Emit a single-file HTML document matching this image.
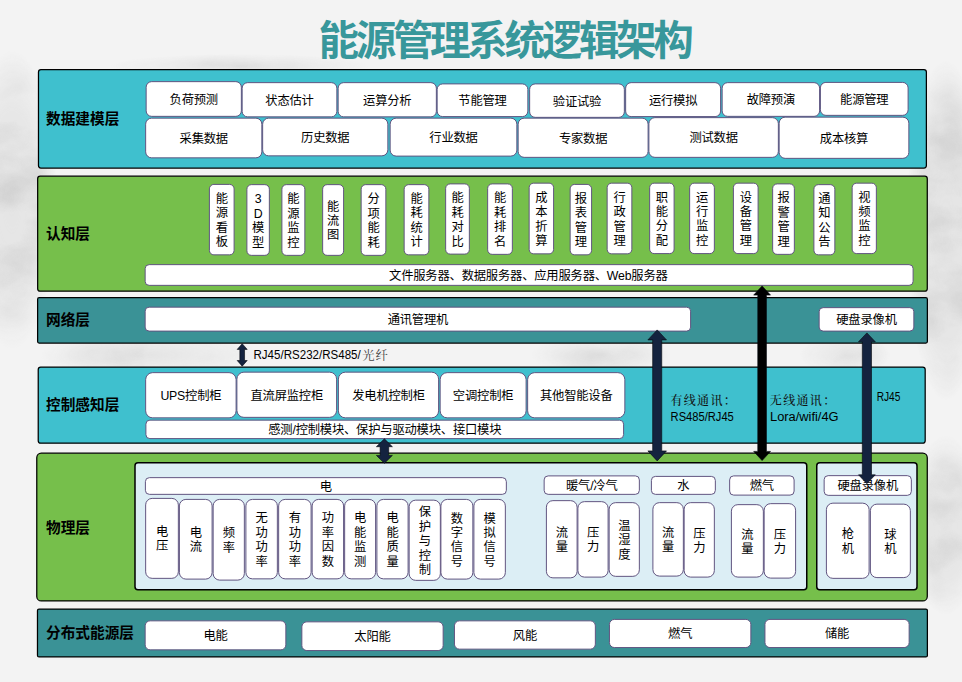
<!DOCTYPE html>
<html lang="zh-CN"><head><meta charset="utf-8"><title>能源管理系统逻辑架构</title>
<style>
html,body{margin:0;padding:0;}
body{width:962px;height:682px;overflow:hidden;position:relative;
 background:#f3f3f3;
 font-family:"Liberation Sans","Noto Sans CJK SC",sans-serif;}
svg{position:absolute;left:0;top:0;display:block}
h1{position:absolute;z-index:2;margin:0;left:318.5px;top:15px;width:372px;height:52px;line-height:52px;white-space:nowrap;
 font:bold 40.5px/52px "Liberation Sans","Noto Sans CJK SC",sans-serif;color:#38979b;letter-spacing:-3.3px}
.t{font:12.3px "Liberation Sans","Noto Sans CJK SC",sans-serif;fill:#000;letter-spacing:-0.2px}
.lab{font:bold 14.67px "Liberation Sans","Noto Sans CJK SC",sans-serif;fill:#000;letter-spacing:0}
.sf{font:500 12px "Liberation Serif","Noto Serif CJK SC",serif;fill:#111;letter-spacing:1.35px}
.sf2{font:12.3px "Liberation Serif","Noto Serif CJK SC",serif;fill:#444;letter-spacing:1px}
.cal{font:12px "Liberation Sans","Noto Sans CJK SC",sans-serif;fill:#000}
</style></head>
<body>
<h1>能源管理系统逻辑架构</h1>
<svg width="962" height="682" viewBox="0 0 962 682">
<defs>
<filter id="marble" x="0" y="0" width="100%" height="100%" color-interpolation-filters="sRGB">
<feTurbulence type="fractalNoise" baseFrequency="0.016 0.024" numOctaves="4" seed="11"/>
<feColorMatrix type="matrix" values="0 0 0 0 0.8  0 0 0 0 0.8  0 0 0 0 0.8  1.7 0 0 0 -0.62"/>
</filter>
<radialGradient id="gL" cx="12" cy="200" r="1" gradientUnits="userSpaceOnUse" gradientTransform="translate(12 200) scale(45 150) translate(-12 -200)"><stop offset="0" stop-color="#fff" stop-opacity="1"/><stop offset="0.6" stop-color="#fff" stop-opacity=".8"/><stop offset="1" stop-color="#fff" stop-opacity="0"/></radialGradient>
<radialGradient id="gR" cx="946" cy="230" r="1" gradientUnits="userSpaceOnUse" gradientTransform="translate(946 230) scale(40 170) translate(-946 -230)"><stop offset="0" stop-color="#fff" stop-opacity="1"/><stop offset="0.65" stop-color="#fff" stop-opacity=".9"/><stop offset="1" stop-color="#fff" stop-opacity="0"/></radialGradient>
<radialGradient id="gR2" cx="946" cy="525" r="1" gradientUnits="userSpaceOnUse" gradientTransform="translate(946 525) scale(36 90) translate(-946 -525)"><stop offset="0" stop-color="#fff" stop-opacity="1"/><stop offset="0.6" stop-color="#fff" stop-opacity=".8"/><stop offset="1" stop-color="#fff" stop-opacity="0"/></radialGradient>
<radialGradient id="gG" cx="150" cy="355" r="1" gradientUnits="userSpaceOnUse" gradientTransform="translate(150 355) scale(110 22) translate(-150 -355)"><stop offset="0" stop-color="#fff" stop-opacity="1"/><stop offset="1" stop-color="#fff" stop-opacity="0"/></radialGradient>
<radialGradient id="gG2" cx="600" cy="355" r="1" gradientUnits="userSpaceOnUse" gradientTransform="translate(600 355) scale(70 20) translate(-600 -355)"><stop offset="0" stop-color="#fff" stop-opacity=".9"/><stop offset="1" stop-color="#fff" stop-opacity="0"/></radialGradient>
<radialGradient id="gG3" cx="845" cy="355" r="1" gradientUnits="userSpaceOnUse" gradientTransform="translate(845 355) scale(45 20) translate(-845 -355)"><stop offset="0" stop-color="#fff" stop-opacity=".9"/><stop offset="1" stop-color="#fff" stop-opacity="0"/></radialGradient>
<radialGradient id="gT" cx="240" cy="66" r="1" gradientUnits="userSpaceOnUse" gradientTransform="translate(240 66) scale(130 12) translate(-240 -66)"><stop offset="0" stop-color="#fff" stop-opacity=".8"/><stop offset="1" stop-color="#fff" stop-opacity="0"/></radialGradient>
<mask id="mk" maskUnits="userSpaceOnUse" x="0" y="0" width="962" height="682">
<rect width="962" height="682" fill="#000"/>
<rect width="962" height="682" fill="url(#gL)"/><rect width="962" height="682" fill="url(#gR)"/><rect width="962" height="682" fill="url(#gR2)"/>
<rect width="962" height="682" fill="url(#gG)"/><rect width="962" height="682" fill="url(#gG2)"/><rect width="962" height="682" fill="url(#gG3)"/><rect width="962" height="682" fill="url(#gT)"/>
</mask>
</defs>
<g mask="url(#mk)"><rect width="962" height="682" fill="#dbdbdb" opacity=".6"/><rect width="962" height="682" filter="url(#marble)"/></g>

<rect x="38.48" y="69.62" width="887.90" height="98.50" rx="2.5" fill="#3fc0ce" stroke="#000" stroke-width="1.25"/>
<text class="lab" x="46" y="124.00">数据建模层</text>
<rect x="37.67" y="176.18" width="889.60" height="114.95" rx="2.5" fill="#76bf4b" stroke="#000" stroke-width="1.25"/>
<text class="lab" x="46" y="238.90">认知层</text>
<rect x="37.62" y="297.73" width="889.75" height="45.35" rx="1.5" fill="#3a9296" stroke="#000" stroke-width="1.25"/>
<text class="lab" x="46" y="325.30">网络层</text>
<rect x="38.23" y="367.02" width="886.95" height="76.15" rx="2.5" fill="#3fc0ce" stroke="#000" stroke-width="1.25"/>
<text class="lab" x="46" y="410.30">控制感知层</text>
<rect x="36.77" y="453.18" width="890.50" height="147.80" rx="4.5" fill="#76bf4b" stroke="#000" stroke-width="1.25"/>
<text class="lab" x="46" y="532.80">物理层</text>
<rect x="37.48" y="609.12" width="889.90" height="47.85" rx="1.5" fill="#3a9296" stroke="#000" stroke-width="1.25"/>
<text class="lab" x="46" y="637.90">分布式能源层</text>
<rect x="146.15" y="81.65" width="95.20" height="34.70" rx="5.5" fill="#fff" stroke="#615480" stroke-width="1"/>
<text class="t" x="193.75" y="103.90" text-anchor="middle">负荷预测</text>
<rect x="242.15" y="82.65" width="94.70" height="34.20" rx="5.5" fill="#fff" stroke="#615480" stroke-width="1"/>
<text class="t" x="289.50" y="104.65" text-anchor="middle">状态估计</text>
<rect x="338.15" y="82.65" width="98.20" height="34.20" rx="5.5" fill="#fff" stroke="#615480" stroke-width="1"/>
<text class="t" x="387.25" y="104.65" text-anchor="middle">运算分析</text>
<rect x="437.15" y="83.90" width="90.70" height="32.70" rx="5.5" fill="#fff" stroke="#615480" stroke-width="1"/>
<text class="t" x="482.50" y="105.15" text-anchor="middle">节能管理</text>
<rect x="529.65" y="83.90" width="94.70" height="33.45" rx="5.5" fill="#fff" stroke="#615480" stroke-width="1"/>
<text class="t" x="577.00" y="105.53" text-anchor="middle">验证试验</text>
<rect x="625.65" y="82.65" width="94.95" height="33.95" rx="5.5" fill="#fff" stroke="#615480" stroke-width="1"/>
<text class="t" x="673.12" y="104.53" text-anchor="middle">运行模拟</text>
<rect x="722.15" y="82.65" width="97.45" height="33.70" rx="5.5" fill="#fff" stroke="#615480" stroke-width="1"/>
<text class="t" x="770.88" y="104.40" text-anchor="middle">故障预演</text>
<rect x="820.40" y="82.40" width="87.70" height="32.95" rx="5.5" fill="#fff" stroke="#615480" stroke-width="1"/>
<text class="t" x="864.25" y="103.78" text-anchor="middle">能源管理</text>
<rect x="145.65" y="118.15" width="116.20" height="39.70" rx="6" fill="#fff" stroke="#615480" stroke-width="1"/>
<text class="t" x="203.75" y="142.90" text-anchor="middle">采集数据</text>
<rect x="262.65" y="118.15" width="125.20" height="37.70" rx="6" fill="#fff" stroke="#615480" stroke-width="1"/>
<text class="t" x="325.25" y="141.90" text-anchor="middle">历史数据</text>
<rect x="390.15" y="118.15" width="126.70" height="37.95" rx="6" fill="#fff" stroke="#615480" stroke-width="1"/>
<text class="t" x="453.50" y="142.03" text-anchor="middle">行业数据</text>
<rect x="518.15" y="118.15" width="129.95" height="39.20" rx="6" fill="#fff" stroke="#615480" stroke-width="1"/>
<text class="t" x="583.12" y="142.65" text-anchor="middle">专家数据</text>
<rect x="648.90" y="117.65" width="129.45" height="39.70" rx="6" fill="#fff" stroke="#615480" stroke-width="1"/>
<text class="t" x="713.62" y="142.40" text-anchor="middle">测试数据</text>
<rect x="779.15" y="117.15" width="129.70" height="41.20" rx="6" fill="#fff" stroke="#615480" stroke-width="1"/>
<text class="t" x="844.00" y="142.65" text-anchor="middle">成本核算</text>
<rect x="209.40" y="184.40" width="24.70" height="70.45" rx="4.5" fill="#fff" stroke="#615480" stroke-width="1"/>
<text class="t" text-anchor="middle"><tspan x="221.75" y="202.93">能</tspan><tspan x="221.75" y="217.33">源</tspan><tspan x="221.75" y="231.73">看</tspan><tspan x="221.75" y="246.12">板</tspan></text>
<rect x="246.90" y="184.65" width="22.45" height="70.70" rx="4.5" fill="#fff" stroke="#615480" stroke-width="1"/>
<text class="t" text-anchor="middle"><tspan x="258.12" y="203.30">3</tspan><tspan x="258.12" y="217.70">D</tspan><tspan x="258.12" y="232.10">模</tspan><tspan x="258.12" y="246.50">型</tspan></text>
<rect x="281.90" y="184.65" width="22.95" height="70.70" rx="4.5" fill="#fff" stroke="#615480" stroke-width="1"/>
<text class="t" text-anchor="middle"><tspan x="293.38" y="203.30">能</tspan><tspan x="293.38" y="217.70">源</tspan><tspan x="293.38" y="232.10">监</tspan><tspan x="293.38" y="246.50">控</tspan></text>
<rect x="322.65" y="184.65" width="20.95" height="70.70" rx="4.5" fill="#fff" stroke="#615480" stroke-width="1"/>
<text class="t" text-anchor="middle"><tspan x="333.12" y="210.50">能</tspan><tspan x="333.12" y="224.90">流</tspan><tspan x="333.12" y="239.30">图</tspan></text>
<rect x="361.15" y="184.65" width="24.70" height="70.70" rx="4.5" fill="#fff" stroke="#615480" stroke-width="1"/>
<text class="t" text-anchor="middle"><tspan x="373.50" y="203.30">分</tspan><tspan x="373.50" y="217.70">项</tspan><tspan x="373.50" y="232.10">能</tspan><tspan x="373.50" y="246.50">耗</tspan></text>
<rect x="404.15" y="184.65" width="24.70" height="70.20" rx="4.5" fill="#fff" stroke="#615480" stroke-width="1"/>
<text class="t" text-anchor="middle"><tspan x="416.50" y="203.05">能</tspan><tspan x="416.50" y="217.45">耗</tspan><tspan x="416.50" y="231.85">统</tspan><tspan x="416.50" y="246.25">计</tspan></text>
<rect x="445.65" y="183.90" width="23.70" height="70.20" rx="4.5" fill="#fff" stroke="#615480" stroke-width="1"/>
<text class="t" text-anchor="middle"><tspan x="457.50" y="202.30">能</tspan><tspan x="457.50" y="216.70">耗</tspan><tspan x="457.50" y="231.10">对</tspan><tspan x="457.50" y="245.50">比</tspan></text>
<rect x="487.65" y="183.90" width="24.70" height="70.45" rx="4.5" fill="#fff" stroke="#615480" stroke-width="1"/>
<text class="t" text-anchor="middle"><tspan x="500.00" y="202.43">能</tspan><tspan x="500.00" y="216.83">耗</tspan><tspan x="500.00" y="231.23">排</tspan><tspan x="500.00" y="245.62">名</tspan></text>
<rect x="529.15" y="183.15" width="24.45" height="70.70" rx="4.5" fill="#fff" stroke="#615480" stroke-width="1"/>
<text class="t" text-anchor="middle"><tspan x="541.38" y="201.80">成</tspan><tspan x="541.38" y="216.20">本</tspan><tspan x="541.38" y="230.60">折</tspan><tspan x="541.38" y="245.00">算</tspan></text>
<rect x="570.15" y="184.40" width="21.45" height="70.45" rx="4.5" fill="#fff" stroke="#615480" stroke-width="1"/>
<text class="t" text-anchor="middle"><tspan x="580.88" y="202.93">报</tspan><tspan x="580.88" y="217.33">表</tspan><tspan x="580.88" y="231.73">管</tspan><tspan x="580.88" y="246.12">理</tspan></text>
<rect x="607.15" y="183.15" width="24.70" height="70.70" rx="4.5" fill="#fff" stroke="#615480" stroke-width="1"/>
<text class="t" text-anchor="middle"><tspan x="619.50" y="201.80">行</tspan><tspan x="619.50" y="216.20">政</tspan><tspan x="619.50" y="230.60">管</tspan><tspan x="619.50" y="245.00">理</tspan></text>
<rect x="649.65" y="183.15" width="24.45" height="70.45" rx="4.5" fill="#fff" stroke="#615480" stroke-width="1"/>
<text class="t" text-anchor="middle"><tspan x="661.88" y="201.68">职</tspan><tspan x="661.88" y="216.08">能</tspan><tspan x="661.88" y="230.48">分</tspan><tspan x="661.88" y="244.88">配</tspan></text>
<rect x="689.65" y="183.15" width="24.70" height="70.45" rx="4.5" fill="#fff" stroke="#615480" stroke-width="1"/>
<text class="t" text-anchor="middle"><tspan x="702.00" y="201.68">运</tspan><tspan x="702.00" y="216.08">行</tspan><tspan x="702.00" y="230.48">监</tspan><tspan x="702.00" y="244.88">控</tspan></text>
<rect x="733.40" y="183.15" width="24.70" height="70.45" rx="4.5" fill="#fff" stroke="#615480" stroke-width="1"/>
<text class="t" text-anchor="middle"><tspan x="745.75" y="201.68">设</tspan><tspan x="745.75" y="216.08">备</tspan><tspan x="745.75" y="230.48">管</tspan><tspan x="745.75" y="244.88">理</tspan></text>
<rect x="772.65" y="183.90" width="21.70" height="70.45" rx="4.5" fill="#fff" stroke="#615480" stroke-width="1"/>
<text class="t" text-anchor="middle"><tspan x="783.50" y="202.43">报</tspan><tspan x="783.50" y="216.83">警</tspan><tspan x="783.50" y="231.23">管</tspan><tspan x="783.50" y="245.62">理</tspan></text>
<rect x="813.90" y="184.65" width="20.95" height="70.20" rx="4.5" fill="#fff" stroke="#615480" stroke-width="1"/>
<text class="t" text-anchor="middle"><tspan x="824.38" y="203.05">通</tspan><tspan x="824.38" y="217.45">知</tspan><tspan x="824.38" y="231.85">公</tspan><tspan x="824.38" y="246.25">告</tspan></text>
<rect x="852.15" y="183.15" width="24.20" height="70.45" rx="4.5" fill="#fff" stroke="#615480" stroke-width="1"/>
<text class="t" text-anchor="middle"><tspan x="864.25" y="201.68">视</tspan><tspan x="864.25" y="216.08">频</tspan><tspan x="864.25" y="230.48">监</tspan><tspan x="864.25" y="244.88">控</tspan></text>
<rect x="145.15" y="264.65" width="767.95" height="20.70" rx="4" fill="#fff" stroke="#615480" stroke-width="1"/>
<text class="t" x="528.33" y="279.90" text-anchor="middle">文件服务器、数据服务器、应用服务器、Web服务器</text>
<rect x="145.15" y="307.15" width="545.45" height="23.95" rx="4" fill="#fff" stroke="#615480" stroke-width="1"/>
<text class="t" x="417.88" y="324.02" text-anchor="middle">通讯管理机</text>
<rect x="819.15" y="307.65" width="94.70" height="23.45" rx="4" fill="#fff" stroke="#615480" stroke-width="1"/>
<text class="t" x="866.50" y="324.27" text-anchor="middle">硬盘录像机</text>
<rect x="145.65" y="372.65" width="90.45" height="45.20" rx="7" fill="#fff" stroke="#615480" stroke-width="1"/>
<text class="t" x="190.88" y="400.15" text-anchor="middle">UPS控制柜</text>
<rect x="236.90" y="372.15" width="99.70" height="45.20" rx="7" fill="#fff" stroke="#615480" stroke-width="1"/>
<text class="t" x="286.75" y="399.65" text-anchor="middle">直流屏监控柜</text>
<rect x="338.40" y="372.15" width="100.20" height="45.70" rx="7" fill="#fff" stroke="#615480" stroke-width="1"/>
<text class="t" x="388.50" y="399.90" text-anchor="middle">发电机控制柜</text>
<rect x="440.15" y="372.65" width="85.95" height="45.20" rx="7" fill="#fff" stroke="#615480" stroke-width="1"/>
<text class="t" x="483.12" y="400.15" text-anchor="middle">空调控制柜</text>
<rect x="527.65" y="372.65" width="97.20" height="45.20" rx="7" fill="#fff" stroke="#615480" stroke-width="1"/>
<text class="t" x="576.25" y="400.15" text-anchor="middle">其他智能设备</text>
<rect x="145.90" y="420.15" width="477.70" height="18.45" rx="4" fill="#fff" stroke="#615480" stroke-width="1"/>
<text class="t" x="384.75" y="434.27" text-anchor="middle">感测/控制模块、保护与驱动模块、接口模块</text>
<text class="sf" x="670.4" y="405">有线通讯：</text>
<text class="cal" x="670.6" y="421.2" textLength="63.2" lengthAdjust="spacingAndGlyphs">RS485/RJ45</text>
<text class="sf" x="769.8" y="404.5">无线通讯：</text>
<text class="cal" x="770" y="420.6" textLength="68.6" lengthAdjust="spacingAndGlyphs">Lora/wifi/4G</text>
<text class="cal" x="876.7" y="401" textLength="23.7" lengthAdjust="spacingAndGlyphs">RJ45</text>
<text class="cal" x="253.5" y="359.3" textLength="107.2" lengthAdjust="spacingAndGlyphs">RJ45/RS232/RS485/</text>
<text class="sf2" x="362.3" y="359.6">光纤</text>
<rect x="135.00" y="462.75" width="671.75" height="127.00" rx="3" fill="#dceef5" stroke="#000" stroke-width="1.5"/>
<rect x="816.75" y="462.75" width="100.25" height="127.00" rx="3" fill="#dceef5" stroke="#000" stroke-width="1.5"/>
<rect x="145.40" y="477.65" width="360.95" height="16.70" rx="4" fill="#fff" stroke="#615480" stroke-width="1"/>
<text class="t" x="325.88" y="490.90" text-anchor="middle">电</text>
<rect x="145.65" y="498.40" width="32.70" height="79.95" rx="6.5" fill="#fff" stroke="#615480" stroke-width="1"/>
<text class="t" text-anchor="middle"><tspan x="162.00" y="536.07">电</tspan><tspan x="162.00" y="550.47">压</tspan></text>
<rect x="179.40" y="499.40" width="32.70" height="79.70" rx="6.5" fill="#fff" stroke="#615480" stroke-width="1"/>
<text class="t" text-anchor="middle"><tspan x="195.75" y="536.95">电</tspan><tspan x="195.75" y="551.35">流</tspan></text>
<rect x="213.15" y="499.40" width="31.20" height="80.70" rx="6.5" fill="#fff" stroke="#615480" stroke-width="1"/>
<text class="t" text-anchor="middle"><tspan x="228.75" y="537.45">频</tspan><tspan x="228.75" y="551.85">率</tspan></text>
<rect x="245.90" y="499.40" width="31.45" height="79.45" rx="6.5" fill="#fff" stroke="#615480" stroke-width="1"/>
<text class="t" text-anchor="middle"><tspan x="261.62" y="522.42">无</tspan><tspan x="261.62" y="536.82">功</tspan><tspan x="261.62" y="551.22">功</tspan><tspan x="261.62" y="565.62">率</tspan></text>
<rect x="278.65" y="499.40" width="32.45" height="79.45" rx="6.5" fill="#fff" stroke="#615480" stroke-width="1"/>
<text class="t" text-anchor="middle"><tspan x="294.88" y="522.42">有</tspan><tspan x="294.88" y="536.82">功</tspan><tspan x="294.88" y="551.22">功</tspan><tspan x="294.88" y="565.62">率</tspan></text>
<rect x="312.15" y="499.40" width="31.45" height="79.45" rx="6.5" fill="#fff" stroke="#615480" stroke-width="1"/>
<text class="t" text-anchor="middle"><tspan x="327.88" y="522.42">功</tspan><tspan x="327.88" y="536.82">率</tspan><tspan x="327.88" y="551.22">因</tspan><tspan x="327.88" y="565.62">数</tspan></text>
<rect x="344.65" y="499.40" width="30.95" height="79.45" rx="6.5" fill="#fff" stroke="#615480" stroke-width="1"/>
<text class="t" text-anchor="middle"><tspan x="360.12" y="522.42">电</tspan><tspan x="360.12" y="536.82">能</tspan><tspan x="360.12" y="551.22">监</tspan><tspan x="360.12" y="565.62">测</tspan></text>
<rect x="376.90" y="499.40" width="31.20" height="79.45" rx="6.5" fill="#fff" stroke="#615480" stroke-width="1"/>
<text class="t" text-anchor="middle"><tspan x="392.50" y="522.42">电</tspan><tspan x="392.50" y="536.82">能</tspan><tspan x="392.50" y="551.22">质</tspan><tspan x="392.50" y="565.62">量</tspan></text>
<rect x="409.15" y="500.15" width="31.20" height="80.20" rx="6.5" fill="#fff" stroke="#615480" stroke-width="1"/>
<text class="t" text-anchor="middle"><tspan x="424.75" y="516.35">保</tspan><tspan x="424.75" y="530.75">护</tspan><tspan x="424.75" y="545.15">与</tspan><tspan x="424.75" y="559.55">控</tspan><tspan x="424.75" y="573.95">制</tspan></text>
<rect x="440.90" y="499.40" width="31.95" height="79.70" rx="6.5" fill="#fff" stroke="#615480" stroke-width="1"/>
<text class="t" text-anchor="middle"><tspan x="456.88" y="522.55">数</tspan><tspan x="456.88" y="536.95">字</tspan><tspan x="456.88" y="551.35">信</tspan><tspan x="456.88" y="565.75">号</tspan></text>
<rect x="473.90" y="499.40" width="31.45" height="79.70" rx="6.5" fill="#fff" stroke="#615480" stroke-width="1"/>
<text class="t" text-anchor="middle"><tspan x="489.62" y="522.55">模</tspan><tspan x="489.62" y="536.95">拟</tspan><tspan x="489.62" y="551.35">信</tspan><tspan x="489.62" y="565.75">号</tspan></text>
<rect x="546.40" y="500.65" width="30.70" height="77.20" rx="6.5" fill="#fff" stroke="#615480" stroke-width="1"/>
<text class="t" text-anchor="middle"><tspan x="561.75" y="536.95">流</tspan><tspan x="561.75" y="551.35">量</tspan></text>
<rect x="577.90" y="501.65" width="30.20" height="75.45" rx="6.5" fill="#fff" stroke="#615480" stroke-width="1"/>
<text class="t" text-anchor="middle"><tspan x="593.00" y="537.07">压</tspan><tspan x="593.00" y="551.47">力</tspan></text>
<rect x="609.15" y="502.65" width="30.20" height="73.70" rx="6.5" fill="#fff" stroke="#615480" stroke-width="1"/>
<text class="t" text-anchor="middle"><tspan x="624.25" y="530.00">温</tspan><tspan x="624.25" y="544.40">湿</tspan><tspan x="624.25" y="558.80">度</tspan></text>
<rect x="652.90" y="502.65" width="30.45" height="73.45" rx="6.5" fill="#fff" stroke="#615480" stroke-width="1"/>
<text class="t" text-anchor="middle"><tspan x="668.12" y="537.07">流</tspan><tspan x="668.12" y="551.47">量</tspan></text>
<rect x="684.15" y="502.65" width="30.20" height="74.45" rx="6.5" fill="#fff" stroke="#615480" stroke-width="1"/>
<text class="t" text-anchor="middle"><tspan x="699.25" y="537.57">压</tspan><tspan x="699.25" y="551.97">力</tspan></text>
<rect x="731.40" y="504.65" width="31.95" height="72.45" rx="6.5" fill="#fff" stroke="#615480" stroke-width="1"/>
<text class="t" text-anchor="middle"><tspan x="747.38" y="538.57">流</tspan><tspan x="747.38" y="552.97">量</tspan></text>
<rect x="764.15" y="503.65" width="31.45" height="74.45" rx="6.5" fill="#fff" stroke="#615480" stroke-width="1"/>
<text class="t" text-anchor="middle"><tspan x="779.88" y="538.57">压</tspan><tspan x="779.88" y="552.97">力</tspan></text>
<rect x="826.40" y="503.15" width="42.70" height="75.20" rx="6.5" fill="#fff" stroke="#615480" stroke-width="1"/>
<text class="t" text-anchor="middle"><tspan x="847.75" y="538.45">枪</tspan><tspan x="847.75" y="552.85">机</tspan></text>
<rect x="870.40" y="504.15" width="39.95" height="73.45" rx="6.5" fill="#fff" stroke="#615480" stroke-width="1"/>
<text class="t" text-anchor="middle"><tspan x="890.38" y="538.57">球</tspan><tspan x="890.38" y="552.97">机</tspan></text>
<rect x="544.15" y="475.90" width="95.20" height="18.45" rx="4" fill="#fff" stroke="#615480" stroke-width="1"/>
<text class="t" x="591.75" y="490.02" text-anchor="middle">暖气/冷气</text>
<rect x="651.40" y="476.40" width="63.95" height="17.95" rx="4" fill="#fff" stroke="#615480" stroke-width="1"/>
<text class="t" x="683.38" y="490.27" text-anchor="middle">水</text>
<rect x="729.65" y="475.90" width="64.45" height="19.20" rx="4" fill="#fff" stroke="#615480" stroke-width="1"/>
<text class="t" x="761.88" y="490.40" text-anchor="middle">燃气</text>
<rect x="824.15" y="475.65" width="87.20" height="19.70" rx="4" fill="#fff" stroke="#615480" stroke-width="1"/>
<text class="t" x="867.75" y="490.40" text-anchor="middle">硬盘录像机</text>
<rect x="145.15" y="620.85" width="140.70" height="29.00" rx="5" fill="#fff" stroke="#615480" stroke-width="1"/>
<text class="t" x="215.50" y="640.25" text-anchor="middle">电能</text>
<rect x="301.85" y="621.85" width="141.30" height="28.70" rx="5" fill="#fff" stroke="#615480" stroke-width="1"/>
<text class="t" x="372.50" y="641.10" text-anchor="middle">太阳能</text>
<rect x="454.45" y="620.85" width="140.90" height="28.30" rx="5" fill="#fff" stroke="#615480" stroke-width="1"/>
<text class="t" x="524.90" y="639.90" text-anchor="middle">风能</text>
<rect x="609.45" y="619.40" width="141.40" height="28.15" rx="5" fill="#fff" stroke="#615480" stroke-width="1"/>
<text class="t" x="680.15" y="638.38" text-anchor="middle">燃气</text>
<rect x="764.95" y="619.40" width="144.20" height="28.15" rx="5" fill="#fff" stroke="#615480" stroke-width="1"/>
<text class="t" x="837.05" y="638.38" text-anchor="middle">储能</text>
<polygon fill="#14233f" stroke="#04070d" stroke-width="0.6" stroke-linejoin="miter" points="242.20,343.70 247.20,349.40 244.55,349.40 244.55,360.50 247.20,360.50 242.20,366.20 237.20,360.50 239.85,360.50 239.85,349.40 237.20,349.40"/>
<polygon fill="#14233f" stroke="#04070d" stroke-width="0.6" stroke-linejoin="miter" points="384.40,438.80 392.40,446.70 388.70,446.70 388.70,455.40 392.40,455.40 384.40,463.30 376.40,455.40 380.10,455.40 380.10,446.70 376.40,446.70"/>
<polygon fill="#14233f" stroke="#04070d" stroke-width="0.6" stroke-linejoin="miter" points="657.20,329.90 666.50,339.90 661.75,339.90 661.75,450.90 666.50,450.90 657.20,460.90 647.90,450.90 652.65,450.90 652.65,339.90 647.90,339.90"/>
<polygon fill="#000" stroke="#04070d" stroke-width="0.6" stroke-linejoin="miter" points="762.10,285.90 770.50,295.10 766.45,295.10 766.45,451.40 770.50,451.40 762.10,460.60 753.70,451.40 757.75,451.40 757.75,295.10 753.70,295.10"/>
<polygon fill="#14233f" stroke="#04070d" stroke-width="0.6" stroke-linejoin="miter" points="866.90,332.90 875.30,341.80 871.50,341.80 871.50,474.80 875.30,474.80 866.90,483.70 858.50,474.80 862.30,474.80 862.30,341.80 858.50,341.80"/>
</svg>
</body></html>
